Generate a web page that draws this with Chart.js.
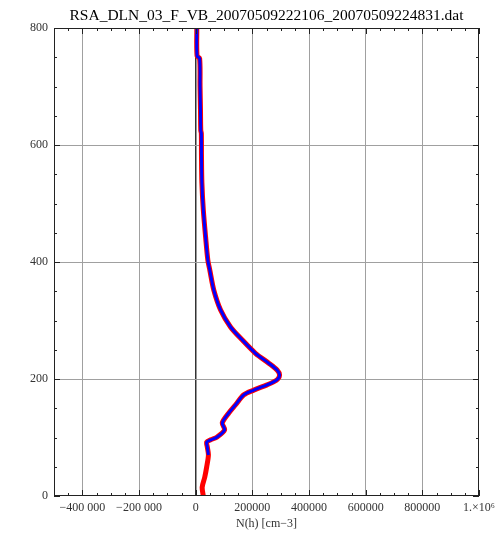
<!DOCTYPE html>
<html>
<head>
<meta charset="utf-8">
<script src="https://cdn.jsdelivr.net/npm/chart.js@4.4.0/dist/chart.umd.min.js"></script>
<style>
  body { margin: 0; background: #fff; }
  #wrap { width: 500px; height: 540px; }
</style>
</head>
<body>
<div id="wrap"><canvas id="chart" width="500" height="540"></canvas></div>
<script>
// measured profile: height h vs density N(h)
const heights = [0, 15, 32, 50, 70, 84, 92, 96, 101, 113, 125, 142, 156, 173, 181, 190, 195, 200, 207, 215, 227, 244, 267, 289, 318, 352, 386, 403, 443, 489, 535, 583, 620, 625, 660, 700, 748, 752, 800];
const densRed = [27000, 23000, 32000, 39000, 45000, 41000, 39000, 53000, 76000, 102000, 94000, 117000, 141000, 170000, 205000, 252000, 275000, 290000, 296000, 288000, 258000, 211000, 164000, 123000, 88000, 64000, 50000, 43000, 35000, 27000, 22000, 20500, 20000, 18000, 17000, 15500, 14000, 5000, 4000];
// fitted curve only covers h >= 70
const fitStart = 4;

const xTickLabels = {
  '-400000': '\u2212400 000', '-200000': '\u2212200 000', '0': '0',
  '200000': '200000', '400000': '400000', '600000': '600000', '800000': '800000',
  '1000000': '1.\u00d710\u2076'
};
const yTickLabels = ['0', '200', '400', '600', '800'];
const chartTitle = 'RSA_DLN_03_F_VB_20070509222106_20070509224831.dat';

const redPts = heights.map((h, i) => ({ x: densRed[i], y: h }));
const bluePts = redPts.slice(fitStart);

const serif = "'Liberation Serif', 'DejaVu Serif', serif";

function isMajorX(v) { return v % 200000 === 0 && v > -500000; }
function isMajorY(v) { return v % 200 === 0; }

// frame + inward tick marks + title centred over the plot box
const frameTicks = {
  id: 'frameTicks',
  afterDraw(chart) {
    const { ctx, chartArea: a, scales } = chart;
    ctx.save();
    ctx.strokeStyle = '#222';
    ctx.lineWidth = 1;
    ctx.strokeRect(a.left + 0.5, a.top + 0.5, a.right - a.left - 1, a.bottom - a.top - 1);
    ctx.beginPath();
    for (let v = -500000; v <= 1000000; v += 50000) {
      const x = Math.round(scales.x.getPixelForValue(v)) + 0.5;
      const len = isMajorX(v) ? 6 : 3;
      ctx.moveTo(x, a.bottom); ctx.lineTo(x, a.bottom - len);
      ctx.moveTo(x, a.top); ctx.lineTo(x, a.top + len);
    }
    for (let v = 0; v <= 800; v += 50) {
      const y = Math.round(scales.y.getPixelForValue(v)) + 0.5;
      const len = isMajorY(v) ? 6 : 3;
      ctx.moveTo(a.left, y); ctx.lineTo(a.left + len, y);
      ctx.moveTo(a.right, y); ctx.lineTo(a.right - len, y);
    }
    ctx.stroke();

    ctx.fillStyle = '#000';
    ctx.font = '15.5px ' + serif;
    ctx.textAlign = 'center';
    ctx.textBaseline = 'middle';
    ctx.fillText(chartTitle, (a.left + a.right) / 2, 16);
    ctx.restore();
  }
};

new Chart(document.getElementById('chart'), {
  type: 'scatter',
  data: {
    datasets: [
      { label: 'fit', data: bluePts, showLine: true, borderColor: '#0000ff', borderWidth: 3, pointRadius: 0, tension: 0.3 },
      { label: 'data', data: redPts, showLine: true, borderColor: '#ff0000', borderWidth: 5, pointRadius: 0, tension: 0.3 }
    ]
  },
  options: {
    responsive: false,
    animation: false,
    layout: { padding: { left: 0, right: 21, top: 28, bottom: 0 } },
    plugins: {
      legend: { display: false },
      tooltip: { enabled: false },
      title: { display: false }
    },
    scales: {
      x: {
        type: 'linear',
        min: -500000,
        max: 1000000,
        afterBuildTicks: s => {
          const t = [];
          for (let v = -500000; v <= 1000000; v += 50000) t.push({ value: v });
          s.ticks = t;
        },
        afterFit: s => { s.height = 44; },
        ticks: {
          autoSkip: false,
          maxRotation: 0,
          padding: 5,
          color: '#333',
          font: { family: serif, size: 12 },
          callback: v => xTickLabels[String(v)] || ''
        },
        grid: {
          drawTicks: false,
          color: c => c.tick.value === 0 ? '#333' : (isMajorX(c.tick.value) && c.tick.value < 1000000 ? '#a0a0a0' : 'rgba(0,0,0,0)'),
          lineWidth: c => c.tick.value === 0 ? 1.5 : 1
        },
        border: { display: false },
        title: {
          display: true,
          text: 'N(h) [cm\u22123]',
          color: '#333',
          font: { family: serif, size: 12 },
          padding: { top: 0, bottom: 9 }
        }
      },
      y: {
        min: 0,
        max: 800,
        afterBuildTicks: s => {
          const t = [];
          for (let v = 0; v <= 800; v += 50) t.push({ value: v });
          s.ticks = t;
        },
        afterFit: s => { s.width = 54; },
        ticks: {
          autoSkip: false,
          padding: 6,
          color: '#333',
          font: { family: serif, size: 12 },
          callback: v => isMajorY(v) ? yTickLabels[v / 200] : ''
        },
        grid: {
          drawTicks: false,
          color: c => (c.tick.value > 0 && c.tick.value < 800 && isMajorY(c.tick.value)) ? '#a0a0a0' : 'rgba(0,0,0,0)'
        },
        border: { display: false }
      }
    }
  },
  plugins: [frameTicks]
});
</script>
</body>
</html>
